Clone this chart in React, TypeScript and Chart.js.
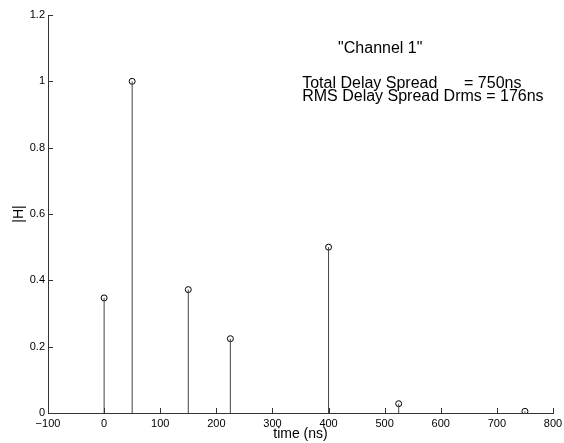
import React, { useEffect, useRef } from "react";
import { Chart, registerables } from "chart.js";

Chart.register(...registerables);

// Data
const delays = [0, 50, 150, 225, 400, 525, 750]; // time (ns)
const magnitudes = [0.347, 1.0, 0.372, 0.224, 0.5, 0.028, 0.005]; // |H|

const xTickMin = -100;
const xTickMax = 800;
const xTickStep = 100;
const yTickMin = 0;
const yTickMax = 1.2;
const yTickStep = 0.2;

const xTitle = "time (ns)";
const yTitle = "|H|";
const annotationLines = [
  { text: '"Channel 1"', x: 417, y: 1.1 },
  { text: "Total Delay Spread      = 750ns", x: 353, y: 0.993 },
  { text: "RMS Delay Spread Drms = 176ns", x: 353, y: 0.953 },
];

const FONT = '"Liberation Sans", Arial, Helvetica, sans-serif';

const inwardTicks = {
  id: "inwardTicks",
  afterDraw(chart: any) {
    const { ctx, chartArea } = chart;
    const xs = chart.scales.x;
    const ys = chart.scales.y;
    ctx.save();
    ctx.strokeStyle = "#333";
    ctx.lineWidth = 1;
    ctx.beginPath();
    xs.ticks.forEach((t: any) => {
      const px = Math.round(xs.getPixelForValue(t.value)) + 0.5;
      ctx.moveTo(px, chartArea.bottom);
      ctx.lineTo(px, chartArea.bottom - 5);
    });
    ys.ticks.forEach((t: any) => {
      const py = Math.round(ys.getPixelForValue(t.value)) + 0.5;
      ctx.moveTo(chartArea.left, py);
      ctx.lineTo(chartArea.left + 5, py);
    });
    ctx.stroke();

    ctx.fillStyle = "#000";
    ctx.font = `16px ${FONT}`;
    ctx.textAlign = "left";
    ctx.textBaseline = "middle";
    annotationLines.forEach((a) => {
      ctx.fillText(a.text, xs.getPixelForValue(a.x), ys.getPixelForValue(a.y));
    });
    ctx.restore();
  },
};

export default function App() {
  const ref = useRef<HTMLCanvasElement>(null);

  useEffect(() => {
    if (!ref.current) return;
    const stemDatasets = delays.map((d, i) => ({
      type: "line" as const,
      data: [
        { x: d, y: 0 },
        { x: d, y: magnitudes[i] },
      ],
      borderColor: "#444",
      borderWidth: 1,
      pointRadius: 0,
      fill: false,
      tension: 0,
    }));
    const markerDataset = {
      type: "scatter" as const,
      data: delays.map((d, i) => ({ x: d, y: magnitudes[i] })),
      pointStyle: "circle",
      pointRadius: 3,
      borderColor: "#000",
      backgroundColor: "rgba(0,0,0,0)",
      borderWidth: 1,
    };

    const chart = new Chart(ref.current, {
      type: "scatter",
      data: { datasets: [...stemDatasets, markerDataset] as any },
      plugins: [inwardTicks],
      options: {
        animation: false,
        responsive: false,
        maintainAspectRatio: false,
        devicePixelRatio: 1,
        layout: { padding: { top: 15, right: 11, left: 0, bottom: 0 } },
        plugins: {
          legend: { display: false },
          tooltip: { enabled: false },
        },
        scales: {
          x: {
            type: "linear",
            min: xTickMin,
            max: xTickMax,
            afterFit: (s: any) => {
              s.height = 30;
              s.paddingLeft = 0;
              s.paddingRight = 0;
            },
            grid: { display: false, drawTicks: false },
            border: { display: true, color: "#333", width: 1 },
            ticks: {
              stepSize: xTickStep,
              autoSkip: false,
              maxRotation: 0,
              padding: 4,
              color: "#000",
              font: { family: FONT, size: 11 },
              callback: (v: any) =>
                v < 0 ? "\u2212" + String(Math.abs(v)) : String(v),
            },
            title: {
              display: true,
              text: xTitle,
              color: "#000",
              font: { family: FONT, size: 14 },
              padding: { top: 0, bottom: 0 },
            },
          },
          y: {
            type: "linear",
            min: yTickMin,
            max: yTickMax,
            afterFit: (s: any) => {
              s.width = 48;
              s.paddingTop = 0;
              s.paddingBottom = 0;
            },
            grid: { display: false, drawTicks: false },
            border: { display: true, color: "#333", width: 1 },
            ticks: {
              stepSize: yTickStep,
              autoSkip: false,
              padding: 3,
              color: "#000",
              font: { family: FONT, size: 11 },
              callback: (v: any) => String(Math.round(v * 10) / 10),
            },
            title: {
              display: true,
              text: yTitle,
              color: "#000",
              font: { family: FONT, size: 14 },
              padding: { top: 11, bottom: 0 },
            },
          },
        },
      } as any,
    });
    return () => chart.destroy();
  }, []);

  return (
    <div style={{ position: "absolute", left: 0, top: 0, width: 564, height: 443, background: "#fff" }}>
      <canvas ref={ref} width={564} height={443} style={{ width: 564, height: 443 }} />
    </div>
  );
}
